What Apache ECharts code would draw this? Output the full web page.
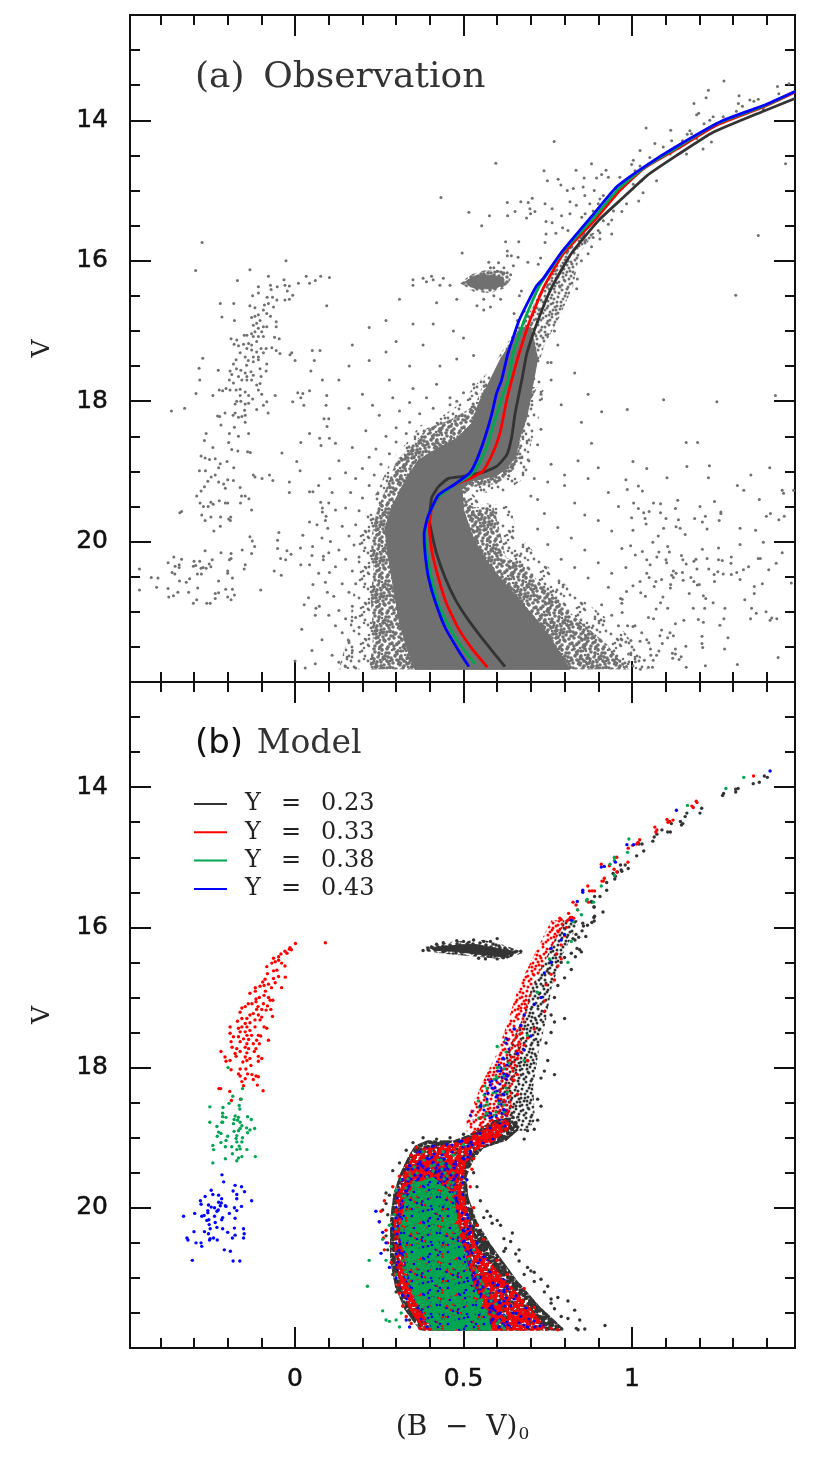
<!DOCTYPE html>
<html><head><meta charset="utf-8">
<style>html,body{margin:0;padding:0;background:#fff}#c{width:830px;height:1458px}</style>
<script src="https://cdn.jsdelivr.net/npm/echarts@6/dist/echarts.min.js"></script>
</head><body><div id="c"></div>
<script>
const xMajorTicks=[0,0.5,1];
const xMinorTicks=[-0.4,-0.3,-0.2,-0.1,0.1,0.2,0.3,0.4,0.6,0.7,0.8,0.9,1.1,1.2,1.3,1.4];
const yMajorTicks=[14,16,18,20];
const yMinorTicks=[13,13.5,14.5,15,15.5,16.5,17,17.5,18.5,19,19.5,20.5,21,21.5];
const legendNames=['Y = 0.23','Y = 0.33','Y = 0.38','Y = 0.43'];

// Isochrones, panel (a)
const lineY23=[[.623,21.78],[.589,21.58],[.549,21.34],[.509,21.08],[.475,20.82],[.445,20.51],[.42,20.17],[.406,19.89],[.399,19.7],[.401,19.53],[.406,19.37],[.425,19.22],[.455,19.1],[.499,19.07],[.559,19.01],[.598,18.93],[.628,18.77],[.643,18.51],[.653,18.18],[.673,17.7],[.688,17.32],[.721,16.85],[.763,16.37],[.821,15.89],[.902,15.42],[.974,15.1],[1.044,14.79],[1.133,14.5],[1.241,14.17],[1.39,13.87],[1.484,13.69]];
const lineY33=[[.571,21.79],[.529,21.55],[.485,21.24],[.45,20.89],[.425,20.51],[.406,20.13],[.398,19.79],[.406,19.53],[.43,19.34],[.47,19.2],[.519,19.1],[.559,18.99],[.584,18.77],[.608,18.46],[.628,17.99],[.643,17.7],[.665,17.32],[.697,16.85],[.739,16.37],[.798,15.89],[.89,15.42],[.964,15],[1.034,14.69],[1.133,14.41],[1.251,14.07],[1.39,13.81],[1.484,13.6]];
const lineY38=[[.534,21.74],[.499,21.53],[.46,21.24],[.425,20.89],[.406,20.55],[.391,20.17],[.386,19.89],[.396,19.63],[.425,19.37],[.475,19.19],[.519,19.06],[.544,18.91],[.569,18.65],[.593,18.27],[.618,17.89],[.633,17.7],[.647,17.32],[.68,16.85],[.724,16.37],[.795,15.87],[.885,15.4],[.959,14.98],[1.034,14.68],[1.133,14.39],[1.251,14.05],[1.39,13.8],[1.484,13.59]];
const lineY43=[[.516,21.78],[.485,21.55],[.445,21.22],[.415,20.84],[.396,20.51],[.386,20.17],[.383,19.89],[.394,19.65],[.425,19.34],[.475,19.18],[.519,19.02],[.539,18.84],[.564,18.51],[.584,18.18],[.598,17.89],[.613,17.7],[.632,17.32],[.665,16.85],[.715,16.37],[.737,16.25],[.789,15.89],[.88,15.37],[.954,14.95],[1.034,14.67],[1.133,14.37],[1.271,14],[1.39,13.79],[1.484,13.59]];

// Saturated stellar density regions
const obsDenseMain=[[.356,21.82],[.331,21.51],[.307,21.08],[.292,20.65],[.277,20.22],[.267,19.84],[.282,19.56],[.312,19.27],[.336,19.06],[.366,18.84],[.42,18.68],[.48,18.53],[.524,18.32],[.549,17.99],[.61,17.4],[.67,16.95],[.7,16.95],[.72,17.4],[.697,17.99],[.688,18.22],[.668,18.51],[.653,18.8],[.628,18.96],[.598,19.06],[.529,19.13],[.495,19.25],[.501,19.56],[.524,19.89],[.559,20.22],[.608,20.51],[.668,20.84],[.727,21.17],[.777,21.51],[.816,21.82]];
const obsSpeckleMain=[[.222,21.82],[.232,21.32],[.225,20.84],[.232,20.36],[.225,19.98],[.24,19.6],[.272,19.22],[.301,18.84],[.345,18.65],[.39,18.39],[.46,18.27],[.52,18.1],[.54,17.99],[.554,17.8],[.72,17.8],[.699,17.99],[.687,18.27],[.668,18.6],[.663,18.89],[.633,19.06],[.598,19.18],[.529,19.22],[.499,19.34],[.529,19.51],[.589,19.51],[.61,19.89],[.625,20.22],[.68,20.36],[.74,20.65],[.8,20.94],[.856,21.18],[.925,21.46],[.984,21.82]];
const obsFringeMain=[[.13,21.82],[.16,21.3],[.17,20.84],[.185,20.36],[.185,20],[.21,19.6],[.25,19.22],[.285,18.84],[.33,18.6],[.37,18.35],[.44,18.2],[.5,18],[.53,17.8],[.57,17.6],[.74,17.6],[.735,18],[.72,18.3],[.7,18.6],[.7,18.9],[.68,19.1],[.62,19.3],[.52,19.3],[.56,19.45],[.64,19.5],[.66,19.9],[.7,20.1],[.76,20.4],[.83,20.75],[.9,21],[.98,21.3],[1.05,21.82]];
const obsSpeckleStem=[[.6,17.4],[.66,16.95],[.7,16.7],[.735,16.37],[.78,15.95],[.84,15.6],[.89,15.6],[.845,15.89],[.825,16.37],[.78,16.85],[.74,17.2],[.725,17.45]];
const obsDenseClump=[[.505,16.3],[.53,16.22],[.56,16.2],[.6,16.22],[.62,16.26],[.62,16.34],[.59,16.4],[.55,16.4],[.52,16.37]];
const obsSpeckleClump=[[.49,16.32],[.52,16.2],[.56,16.14],[.62,16.14],[.64,16.26],[.63,16.38],[.58,16.46],[.53,16.44]];
const modelClump=[[.40,16.29],[.47,16.26],[.53,16.24],[.6,16.3],[.66,16.35],[.62,16.42],[.54,16.38],[.47,16.34],[.42,16.33]];
const modelClumpOuter=[[.385,16.28],[.47,16.2],[.56,16.18],[.62,16.25],[.68,16.36],[.62,16.46],[.54,16.42],[.45,16.38],[.39,16.34]];
const modelBlack=[[.371,21.75],[.326,21.46],[.297,21.13],[.282,20.75],[.282,20.18],[.292,19.8],[.312,19.51],[.336,19.27],[.356,19.11],[.391,19.04],[.47,19.04],[.514,18.96],[.589,18.75],[.658,18.7],[.663,18.89],[.628,19.04],[.559,19.15],[.529,19.32],[.509,19.56],[.514,19.84],[.539,20.18],[.579,20.51],[.658,21.03],[.727,21.41],[.796,21.72],[.796,21.75]];
const modelRed=[[.381,21.75],[.341,21.46],[.312,21.13],[.297,20.75],[.292,20.18],[.302,19.8],[.321,19.51],[.346,19.29],[.371,19.15],[.43,19.11],[.48,19.06],[.529,18.96],[.599,18.8],[.638,18.75],[.633,18.89],[.588,19.06],[.529,19.2],[.504,19.42],[.499,19.75],[.514,20.08],[.539,20.56],[.618,20.99],[.688,21.37],[.747,21.72],[.747,21.75]];
const modelBlue=[[.401,21.75],[.356,21.37],[.321,20.94],[.307,20.46],[.312,19.93],[.331,19.56],[.361,19.32],[.43,19.27],[.48,19.32],[.48,19.75],[.499,20.32],[.529,20.84],[.608,21.41],[.648,21.75]];
const modelGreen=[[.41,21.75],[.355,21.32],[.33,20.84],[.31,20.37],[.325,19.93],[.355,19.65],[.41,19.56],[.47,19.8],[.49,20.41],[.525,21.03],[.57,21.51],[.585,21.75]];
const modelStemBlack=[[.6,18.9],[.593,18.75],[.604,18.27],[.628,17.8],[.673,17.32],[.702,16.85],[.752,16.37],[.796,15.9],[.846,15.9],[.796,16.37],[.762,16.85],[.745,17.32],[.722,17.8],[.707,18.27],[.712,18.75],[.69,18.9]];
const modelStemRed=[[.51,18.95],[.509,18.75],[.559,18.18],[.599,17.8],[.633,17.32],[.663,16.85],[.712,16.37],[.761,15.9],[.806,15.9],[.752,16.37],[.707,16.85],[.682,17.32],[.668,17.8],[.648,18.18],[.638,18.75],[.6,18.9]];
const modelStemMixed=[[.509,18.75],[.559,18.27],[.609,17.8],[.629,17.47],[.638,17.47],[.638,17.9],[.628,18.37],[.628,18.75]];

// Panel (a) individual stars
const obsHorizontalBranch=[[-.276,15.74],[-.295,16.14],[-.027,16],[-.134,16.13],[-.171,16.28],[-.079,16.22],[-.033,16.27],[.033,16.22],[.06,16.28],[.076,16.22],[.102,16.24],[.01,16.32],[.043,16.32],[-.109,16.37],[-.073,16.35],[-.053,16.37],[-.03,16.35],[-.017,16.36],[-.023,16.43],[-.071,16.41],[-.109,16.46],[-.126,16.5],[-.083,16.52],[-.067,16.52],[-.054,16.56],[-.007,16.49],[-.03,16.56],[-.017,16.55],[-.064,16.66],[-.134,16.64],[-.119,16.67],[-.079,16.61],[-.091,16.63],[-.222,16.61],[-.182,16.61],[.094,16.64],[-.094,16.7],[-.084,16.75],[-.109,16.77],[-.119,16.79],[-.129,16.81],[-.073,16.79],[-.217,16.8],[-.18,16.85],[-.056,16.87],[-.056,16.94],[-.104,16.85],[-.114,16.89],[-.124,16.92],[-.094,16.94],[-.084,16.94],[-.109,16.96],[-.099,17.01],[-.119,17.01],[-.129,17.04],[-.143,17.06],[-.151,17.06],[-.19,17.11],[-.173,17.13],[-.124,17.08],[-.109,17.08],[-.094,17.08],[-.061,17.09],[-.047,17.11],[-.181,17.19],[-.168,17.21],[-.153,17.19],[-.138,17.18],[-.129,17.2],[-.114,17.15],[-.143,17.25],[-.129,17.27],[-.114,17.3],[-.101,17.25],[-.086,17.25],[-.069,17.24],[-.056,17.28],[-.045,17.32],[-.163,17.31],[-.148,17.37],[-.124,17.37],[-.109,17.37],[-.094,17.31],[-.01,17.31],[-.015,17.34],[.051,17.28],[.074,17.28],[-.274,17.39],[-.175,17.41],[-.139,17.42],[-.124,17.44],[-.144,17.49],[-.109,17.41],[-.183,17.47],[0,17.42],[.057,17.42],[-.285,17.53],[-.174,17.54],[-.104,17.54],[-.084,17.47],[-.086,17.57],[-.228,17.56],[-.193,17.57],[-.161,17.56],[-.148,17.6],[-.131,17.58],[.047,17.57],[-.188,17.62],[-.168,17.65],[-.143,17.65],[-.124,17.63],[-.101,17.65],[-.283,17.7],[-.195,17.7],[-.183,17.74],[-.158,17.7],[-.143,17.7],[-.129,17.7],[-.114,17.77],[-.104,17.75],[.081,17.7],[-.294,17.89],[-.225,17.84],[-.215,17.85],[-.205,17.82],[-.193,17.84],[-.175,17.84],[-.163,17.83],[-.148,17.87],[-.109,17.84],[-.244,17.92],[-.099,17.9],[-.059,17.92],[.008,17.88],[.023,17.89],[.043,17.85],[.094,17.92],[.017,17.95],[-.163,17.92],[-.138,17.92],[-.126,17.97],[-.173,18],[-.161,18],[-.148,18.04],[-.138,18.03],[-.084,18.01],[-.094,18.06],[-.007,18.01],[.026,18.06],[.092,18.06],[-.178,18.04],[-.367,18.14],[-.328,18.1],[-.114,18.12],[-.15,18.13],[-.08,18.17],[-.178,18.17],[-.208,18.17],[-.23,18.21],[-.224,18.22],[-.184,18.2],[-.168,18.23],[-.158,18.22],[-.148,18.2],[.086,18.25],[-.148,18.3],[-.22,18.34],[-.18,18.37],[.095,18.36],[.102,18.53],[-.264,18.46],[-.195,18.46],[-.138,18.46],[.043,18.46],[-.269,18.56],[-.168,18.5],[-.197,18.59],[.017,18.59],[.073,18.53],[.077,18.63],[-.244,18.66],[-.188,18.69],[-.17,18.71],[-.141,18.72],[-.133,18.73],[-.279,18.78],[-.267,18.81],[-.254,18.83],[-.237,18.82],[-.222,18.89],[-.202,18.86],[-.227,18.95],[-.182,18.95],[-.039,18.74],[.005,18.86],[.015,18.99],[-.284,18.99],[-.266,18.99],[-.237,19.05],[-.249,19.08],[-.259,19.14],[-.227,19.15],[-.212,19.18],[-.2,19.12],[-.183,19.13],[-.124,19.05],[-.119,19.08],[-.098,19.1],[-.076,19.05],[-.066,19.13],[-.017,19.15],[.103,19.1],[-.207,19.24],[-.269,19.22],[-.279,19.28],[-.292,19.35],[-.163,19.23],[-.159,19.35],[-.148,19.35],[-.137,19.39],[-.017,19.3],[.043,19.29],[.053,19.29],[-.342,19.59],[-.337,19.57],[-.282,19.45],[-.25,19.44],[-.225,19.42],[-.207,19.45],[-.2,19.45],[-.272,19.5],[-.258,19.5],[-.243,19.47],[-.162,19.45],[-.129,19.55],[.076,19.44],[.081,19.52],[.081,19.58],[.092,19.64],[-.277,19.62],[-.25,19.65],[-.221,19.65],[-.191,19.65],[-.197,19.68],[-.267,19.7],[-.192,19.7],[-.222,19.78],[-.241,19.85],[.043,19.72],[.065,19.76],[.097,19.81],[-.048,19.87],[.023,19.91],[-.134,19.93],[-.052,19.98],[-.127,19.99],[-.12,20.07],[.016,20.09],[.052,20.07],[-.052,20.1],[-.157,20.12],[-.267,20.13],[-.22,20.16],[-.19,20.17],[-.129,20.17],[-.024,20.13],[-.012,20.18],[.1,20.16],[-.36,20.22],[-.337,20.25],[-.3,20.28],[-.283,20.28],[-.246,20.26],[-.195,20.26],[-.19,20.24],[-.043,20.24],[-.028,20.26],[.084,20.21],[.084,20.26],[-.377,20.3],[-.344,20.33],[-.344,20.37],[-.356,20.35],[-.302,20.35],[-.295,20.34],[-.255,20.32],[-.148,20.33],[.017,20.33],[.043,20.33],[-.279,20.38],[-.273,20.37],[-.264,20.38],[-.25,20.36],[-.151,20.39],[-.462,20.39],[-.2,20.42],[-.2,20.45],[-.365,20.44],[-.357,20.46],[-.29,20.46],[-.278,20.46],[-.062,20.42],[-.041,20.48],[.102,20.44],[-.427,20.51],[-.407,20.52],[-.343,20.56],[-.313,20.53],[-.323,20.58],[-.227,20.56],[-.186,20.52],[.053,20.61],[-.411,20.65],[-.377,20.67],[-.289,20.66],[-.206,20.68],[-.186,20.68],[-.462,20.69],[-.102,20.69],[.096,20.72],[-.348,20.72],[-.316,20.72],[-.361,20.77],[-.375,20.79],[-.237,20.74],[-.227,20.73],[-.2,20.79],[-.18,20.76],[-.237,20.81],[-.19,20.83],[-.292,20.83],[-.302,20.88],[-.262,20.88],[-.252,20.88],[.027,20.9],[.072,20.92],[.062,20.95]];
const obsFieldRight=[[.986,18.12],[1.094,17.98],[1.252,18.01],[1.426,17.92],[1.161,18.59],[1.195,18.59],[1.003,18.86],[1.044,18.96],[1.163,18.93],[1.23,18.92],[1.104,19.09],[1.227,19.09],[1.353,19.05],[1.409,18.95],[.982,19.12],[.986,19.26],[1.019,19.21],[1.031,19.28],[1.313,19.2],[1.332,19.27],[1.446,19.27],[1.45,19.31],[1.48,19.27],[1.136,19.41],[1.245,19.43],[1.378,19.4],[1.005,19.45],[1.064,19.45],[1.085,19.46],[1.019,19.53],[1.051,19.57],[1.035,19.59],[1.129,19.53],[1.085,19.59],[1.202,19.5],[1.264,19.58],[1.264,19.6],[.999,19.66],[1.039,19.67],[1.042,19.75],[1.101,19.67],[1.138,19.69],[1.186,19.67],[1.218,19.64],[1.209,19.72],[1.259,19.7],[1.399,19.64],[1.411,19.6],[1.436,19.69],[1.452,19.64],[1.003,19.84],[1.094,19.81],[1.131,19.79],[1.143,19.81],[1.223,19.82],[1.321,19.81],[1.367,19.84],[1.078,19.92],[1.158,19.9],[1.062,20.01],[.996,20.06],[1.106,20.07],[1.321,20.04],[1.39,20.01],[1.209,20.11],[1.257,20.09],[1.031,20.14],[1.08,20.15],[1.111,20.15],[1.446,20.16],[1.01,20.19],[1.074,20.22],[1.147,20.2],[1.044,20.26],[1.101,20.26],[1.151,20.26],[1.19,20.25],[1.184,20.28],[1.223,20.24],[1.257,20.26],[1.268,20.27],[1.295,20.22],[1.294,20.31],[1.375,20.24],[1.381,20.24],[1.428,20.31],[1.054,20.33],[1.161,20.32],[1.103,20.3],[.982,20.37],[1.193,20.39],[1.228,20.39],[1.346,20.36],[1.406,20.4],[1.331,20.4],[1.123,20.42],[1.131,20.45],[1.15,20.44],[1.044,20.45],[1.118,20.48],[1.255,20.43],[1.244,20.47],[1.271,20.46],[1.295,20.47],[1.311,20.44],[1.051,20.51],[1.175,20.51],[1.088,20.54],[1.123,20.51],[1.152,20.55],[1.321,20.54],[1.071,20.57],[1.184,20.57],[1.024,20.57],[1.245,20.57],[1.387,20.6],[1.473,20.59],[1.115,20.61],[1.194,20.62],[1.2,20.61],[1.066,20.64],[1.003,20.63],[1.114,20.66],[1.363,20.64],[1.17,20.74],[.984,20.71],[1.026,20.73],[1.363,20.74],[1.04,20.78],[1.212,20.77],[1.219,20.81],[1.092,20.79],[.966,20.81],[.971,20.82],[1.335,20.83],[1.085,20.87],[1.241,20.87],[1.072,20.96],[1.106,20.95],[1.182,20.95],[1.216,20.95],[1.276,20.95],[1.355,20.95],[1.369,21.02],[1.398,21],[.971,21.01],[1.049,21.08],[1.064,21.1],[1.273,21.1],[1.352,21.1],[1.41,21.12],[1.415,21.09],[1.43,21.1],[1.129,21.17],[1.154,21.12],[1.212,21.15],[1.197,21.11],[1.261,21.19],[1.009,21.2],[1.029,21.3],[1.113,21.3],[1.088,21.26],[1.003,21.21],[.987,21.2],[1.083,21.34],[1.123,21.34],[1.106,21.37],[1.208,21.35],[1.285,21.37],[1.09,21.45],[1.16,21.49],[1.208,21.45],[1.21,21.51],[1.275,21.53],[1.024,21.42],[1.05,21.44],[.997,21.41],[.982,21.43],[1.044,21.4],[1.055,21.53],[1.08,21.56],[1.12,21.59],[1.129,21.53],[1.129,21.6],[1.073,21.62],[1.056,21.62],[1.146,21.64],[1.121,21.66],[1.14,21.68],[1.434,21.65],[1.037,21.69],[1.063,21.69],[1.313,21.75],[1.218,21.77],[1.161,21.79],[1.049,21.79],[1.061,21.79],[1.025,21.82],[.984,21.78],[1.01,21.71]];
const obsSubgiant=[[1.273,13.44],[1.227,13.57],[1.22,13.68],[1.184,13.76],[1.192,13.92],[1.198,13.9],[1.318,13.65],[1.316,13.76],[1.35,13.71],[1.362,13.73],[1.375,13.7],[1.432,13.52],[1.466,13.48],[1.436,13.62],[1.39,13.84],[1.31,13.87],[1.328,13.8],[1.271,13.95],[1.241,13.95],[1.231,14],[1.214,14.05],[1.042,14.11],[1.115,14.14],[1.172,14.15],[1.177,14.19],[1.164,14.2],[1.15,14.29],[1.118,14.29],[1.068,14.33],[1.024,14.43],[1.004,14.57],[.999,14.63],[1.009,14.72],[1.024,14.65],[1.053,14.53],[1.093,14.38],[1.113,14.48],[1.142,14.38],[1.162,14.48],[1.211,14.41],[1.236,14.31],[1.192,14.26],[1.375,15.64],[1.308,16.49],[1.456,14.62],[.769,14.3],[.596,14.61],[.88,14.62],[.834,14.71],[.923,14.71],[.91,14.77],[.895,14.82],[.858,14.82],[.93,14.81],[.739,14.72],[.749,14.86],[.781,14.84],[.789,14.92],[.808,15],[.826,14.97],[.855,14.95],[.888,15],[.86,15.07],[.915,15.07],[.905,15.12],[.964,14.81],[.969,14.91],[.954,14.98],[1.004,14.91],[1.033,15.03],[1.073,14.86],[.433,15.1],[.516,15.31],[.577,15.36],[.554,15.5],[.63,15.17],[.67,15.16],[.692,15.17],[.704,15.11],[.742,15.19],[.763,15.26],[.697,15.26],[.712,15.3],[.699,15.33],[.687,15.39],[.631,15.36],[.653,15.3],[.745,15.44],[.763,15.46],[.791,15.36],[.816,15.33],[.835,15.21],[.816,15.16],[.861,15.33],[.851,15.38],[.885,15.29],[.9,15.19],[.875,15.19],[.794,15.53],[.81,15.57],[.774,15.61],[.745,15.62],[.742,15.74],[.625,15.73],[.664,15.73],[.865,15.52],[.915,15.43],[.94,15.62],[.9,15.57],[.885,15.67],[.905,15.69],[.945,15.29],[.984,15.19],[1.029,14.86],[.496,15.89],[.63,15.86],[.63,15.93],[.604,16.03],[.642,15.93],[.662,15.95],[.648,16.07],[.691,16.02],[.729,15.96],[.722,16.05],[.672,16.43],[.666,16.5],[.838,16.26],[.836,16.4],[.59,16.5],[.785,16.36],[.61,16.55],[.85,16],[.87,15.9],[.86,15.72],[.88,15.8],[.905,15.6],[.93,15.48],[.94,15.42],[.97,15.3],[1.02,15.15],[.66,16.85],[.68,16.72],[.65,16.75],[.58,16.1],[.56,16.55],[.54,16.64],[.56,16.7],[.58,16.66],[.48,16.55],[.46,16.35],[.44,16.25],[.41,16.27],[.39,16.3],[.38,16.25],[.405,16.22],[.43,16.35],[.35,16.27],[.35,16.35],[.62,16.1],[.6,16.15],[.63,16.17],[.64,16.2],[.59,16.1],[.575,16.02]];
const obsHaloLeft=[[.18,21.8],[.15,21.78],[.19,21.7],[.17,21.55],[.16,21.44],[.19,21.22],[.14,21.3],[.18,21.08],[.15,21.1],[.17,20.92],[.13,20.98],[.16,20.72],[.18,20.6],[.14,20.6],[.17,20.42],[.19,20.22],[.15,20.25],[.175,20.05],[.13,20.12],[.16,19.92],[.18,19.76],[.14,19.78],[.19,19.56],[.15,19.52],[.2,19.38],[.165,19.3],[.22,19.2],[.18,19.1],[.235,19.05],[.2,18.96],[.255,18.9],[.22,18.8],[.28,18.75],[.24,18.68],[.3,18.58],[.27,18.5],[.33,18.46],[.3,18.38],[.34,18.3],[.37,18.18],[.41,18.1],[.46,18.05],[.48,18],[.46,17.95],[.5,17.88],[.53,17.76],[.31,18.14],[.34,18.02],[.29,17.95],[.25,18.2],[.21,18.42],[.23,18.06],[.28,17.7],[.35,17.82],[.39,17.95],[.42,17.76],[.2,17.9],[.16,18.1],[.17,18.66],[.13,18.85],[.15,19.02],[.11,19.3],[.12,19.55],[.09,19.7],[.105,20],[.12,20.36],[.09,20.58],[.115,20.78],[.1,21.05],[.12,21.2],[.08,21.4],[.11,21.62],[.13,21.72],[.06,21.74],[.03,21.8],[.0,21.7],[.05,21.55],[.02,21.25],[.06,21.05],[.04,20.8],[.07,20.45],[.05,20.2],[.08,19.95],[.1,19.45],[.07,19.2],[.12,18.6],[.1,18.25],[.13,17.7],[.16,17.5],[.22,17.42],[.27,17.3],[.3,17.15],[.34,17.5],[.38,17.2],[.43,17.5],[.48,17.4],[.5,17.1],[.53,17.35],[.47,17],[.41,16.9],[.35,16.9],[.31,16.55],[.27,16.85],[.22,16.95],[.17,17.2],[.42,16.6]];
const obsHaloRight=[[.72,19.4],[.74,19.6],[.72,19.82],[.78,19.8],[.75,20.04],[.82,19.95],[.79,20.25],[.86,20.12],[.83,20.37],[.9,20.3],[.87,20.52],[.94,20.45],[.93,20.65],[.91,20.9],[.97,20.88],[.94,21.05],[.96,21.2],[.97,21.4],[.99,21.6],[.72,18.62],[.73,18.4],[.73,17.9],[.76,17.7],[.79,18.05],[.85,18.3],[.88,18.6],[.84,18.85],[.8,19.05],[.87,19.1],[.9,18.95],[.93,19.3],[.96,19.5],[.9,19.7],[.94,19.85],[.97,20.1],[.8,19.2],[.75,19.15],[.83,19.45],[.86,19.62],[.76,18.9],[.71,19.1],[.7,19.35],[.76,17.45],[.78,17.2],[.83,17.6],[.87,17.9],[.91,18.15],[.75,17.45],[.75,17.05],[.77,17]];

// Panel (b) individual stars
const modelHBRed=[[.001,16.23],[.09,16.22],[-.015,16.29],[-.011,16.32],[-.017,16.31],[-.03,16.34],[-.024,16.37],[-.042,16.38],[-.049,16.42],[-.064,16.44],[-.049,16.47],[-.059,16.49],[-.069,16.51],[-.04,16.51],[-.084,16.56],[-.03,16.55],[-.054,16.61],[-.064,16.62],[-.082,16.66],[-.049,16.7],[-.029,16.71],[-.064,16.73],[-.089,16.74],[-.096,16.78],[-.059,16.79],[-.079,16.81],[-.092,16.83],[-.04,16.86],[-.07,16.86],[-.118,16.86],[-.104,16.84],[-.088,16.91],[-.118,16.91],[-.134,16.94],[-.092,16.97],[-.116,17.02],[-.079,17],[-.074,17.04],[-.066,17.04],[-.106,17],[-.116,17.06],[-.094,17.09],[-.11,17.13],[-.082,17.12],[-.128,17.09],[-.139,17.09],[-.148,17.13],[-.158,17.15],[-.163,17.21],[-.099,17.17],[-.086,17.18],[-.072,17.17],[-.114,17.17],[-.124,17.23],[-.109,17.25],[-.099,17.28],[-.134,17.25],[-.067,17.27],[-.143,17.3],[-.171,17.34],[-.158,17.3],[-.119,17.32],[-.134,17.36],[-.148,17.37],[-.104,17.32],[-.143,17.42],[-.158,17.42],[-.168,17.44],[-.193,17.42],[-.119,17.42],[-.092,17.42],[-.084,17.44],[-.134,17.47],[-.148,17.49],[-.163,17.49],[-.193,17.51],[-.183,17.56],[-.168,17.56],[-.143,17.54],[-.129,17.54],[-.109,17.54],[-.102,17.55],[-.153,17.59],[-.138,17.6],[-.114,17.61],[-.079,17.61],[-.19,17.63],[-.163,17.63],[-.143,17.66],[-.124,17.66],[-.106,17.66],[-.187,17.71],[-.173,17.73],[-.148,17.71],[-.138,17.73],[-.116,17.73],[-.22,17.77],[-.178,17.8],[-.163,17.77],[-.143,17.79],[-.121,17.77],[-.109,17.84],[-.099,17.87],[-.208,17.85],[-.175,17.84],[-.148,17.85],[-.134,17.87],[-.109,17.91],[-.205,17.91],[-.193,17.9],[-.155,17.92],[-.143,17.9],[-.163,18.02],[-.146,18.02],[-.131,17.97],[-.19,18.03],[-.168,18.09],[-.141,18.09],[-.128,18.1],[-.116,18.12],[-.163,18.12],[-.148,18.16],[-.109,18.13],[-.124,18.17],[-.112,18.25],[-.158,18.2],[-.153,18.26],[-.095,18.33],[-.226,18.3],[-.221,18.3],[-.194,18.34],[-.162,18.45],[-.189,18.47]];
const modelHBGreen=[[-.199,18],[-.156,18.3],[-.185,18.41],[-.16,18.45],[-.196,18.51],[-.166,18.54],[-.253,18.56],[-.214,18.57],[-.164,18.59],[-.215,18.65],[-.215,18.7],[-.205,18.71],[-.178,18.69],[-.141,18.7],[-.168,18.71],[-.181,18.74],[-.171,18.75],[-.13,18.74],[-.215,18.78],[-.253,18.78],[-.183,18.8],[-.163,18.78],[-.217,18.78],[-.232,18.84],[-.158,18.83],[-.144,18.86],[-.12,18.87],[-.163,18.87],[-.168,18.9],[-.181,18.91],[-.134,18.89],[-.227,18.92],[-.22,18.94],[-.141,18.93],[-.231,18.98],[-.173,18.97],[-.2,18.98],[-.156,19],[-.175,19.01],[-.205,19.04],[-.22,19.07],[-.173,19.06],[-.158,19.06],[-.244,19.11],[-.166,19.12],[-.242,19.17],[-.207,19.13],[-.188,19.13],[-.173,19.17],[-.163,19.16],[-.143,19.17],[-.244,19.36],[-.207,19.3],[-.186,19.23],[-.158,19.27],[-.168,19.29],[-.173,19.33],[-.118,19.27]];
const modelHBBlue=[[-.217,19.53],[-.212,19.63],[-.178,19.68],[-.159,19.7],[-.249,19.75],[-.15,19.77],[-.184,19.76],[-.244,19.81],[-.227,19.82],[-.267,19.84],[-.173,19.81],[-.173,19.87],[-.281,19.9],[-.218,19.87],[-.129,19.9],[-.227,19.92],[-.219,19.93],[-.279,19.95],[-.257,19.96],[-.222,19.97],[-.207,19.97],[-.205,19.98],[-.249,19.99],[-.239,20],[-.159,19.98],[-.18,20],[-.228,20.03],[-.232,20.05],[-.173,20.04],[-.259,20.04],[-.259,20.07],[-.298,20.08],[-.331,20.12],[-.277,20.12],[-.27,20.11],[-.239,20.12],[-.215,20.14],[-.218,20.17],[-.195,20.08],[-.178,20.15],[-.256,20.17],[-.262,20.18],[-.237,20.21],[-.255,20.24],[-.232,20.28],[-.252,20.3],[-.215,20.3],[-.18,20.29],[-.153,20.3],[-.3,20.34],[-.269,20.34],[-.2,20.35],[-.257,20.37],[-.151,20.37],[-.178,20.39],[-.321,20.43],[-.318,20.46],[-.242,20.43],[-.252,20.44],[-.254,20.46],[-.231,20.46],[-.186,20.43],[-.153,20.43],[-.294,20.5],[-.279,20.5],[-.277,20.55],[-.21,20.6],[-.192,20.62],[-.305,20.75],[-.184,20.76],[-.164,20.76]];
const modelBlackStars=[[1.393,13.84],[1.402,13.86],[1.378,13.93],[1.36,13.95],[1.315,14.02],[1.308,14.03],[1.308,14.07],[1.272,14.09],[1.269,14.12],[1.207,14.3],[1.202,14.37],[1.163,14.37],[1.158,14.42],[1.144,14.49],[1.151,14.52],[1.147,14.54],[1.117,14.52],[1.089,14.61],[1.106,14.64],[1.114,14.64],[1.074,14.67],[1.066,14.71],[1.062,14.77],[1.03,14.81],[1.021,14.81],[1.035,14.91],[1.014,14.98],[.98,15.11],[.966,15.11],[.989,15.16],[.957,15.21],[.968,15.18],[.97,15.2],[.944,15.23],[.951,15.27],[.949,15.31],[.925,15.36],[.925,15.47],[.905,15.56],[.889,15.56],[.88,15.63],[.88,15.64],[.887,15.71],[.888,15.71],[.914,15.78],[.889,15.84],[.887,15.86],[.881,15.93],[.888,15.91],[.854,15.94],[.856,15.98],[.868,15.97],[.852,16.05],[.834,16.1],[.863,16.13],[.842,16.14],[.831,16.18],[.825,16.16],[.837,16.3],[.845,16.32],[.85,16.35],[.82,16.37],[.832,16.42],[.8,16.43],[.79,16.5],[.82,16.6],[.8,16.72],[.78,16.83],[.77,17],[.76,17.25],[.8,17.3],[.77,17.35],[.76,17.5],[.745,17.65],[.75,17.9],[.74,18.05],[.77,18.1],[.73,18.15],[.72,18.45],[.73,18.55],[.72,18.75],[.69,18.9],[.71,18.88],[.68,19.02],[.26,20.03],[.27,19.79],[.28,19.82],[.27,19.94],[.29,19.47],[.31,19.36],[.33,19.18],[.35,19.07],[.355,21.38],[.56,20.14],[.58,20.12],[.585,20.22],[.61,20.25],[.57,20.05],[.6,20.18],[.62,20.44],[.645,20.36],[.625,20.58],[.64,20.48],[.655,20.66],[.665,20.76],[.69,20.85],[.665,20.6],[.71,21.05],[.7,20.9],[.71,20.92],[.73,21.02],[.75,21.12],[.78,21.28],[.81,21.33],[.83,21.46],[.845,21.6],[.81,21.58],[.79,21.55],[.76,21.36],[.77,21.44],[.835,21.72],[.84,21.74],[.86,21.73],[.92,21.68],[.74,21.2],[.76,21.3],[.68,20.95],[.62,20.62],[.55,19.9],[.54,19.7],[.53,19.5],[.3,20.05],[.275,20.1],[.27,20.4],[.275,20.6],[.29,20.95],[.3,21.2],[.32,21.4],[.34,21.6],[.38,19.0],[.42,19.02],[.46,19.0],[.5,18.95],[.44,16.22],[.5,16.2],[.53,16.18],[.56,16.2],[.6,16.16],[.48,16.19],[.42,16.24],[.395,16.32],[.38,16.33],[.405,16.28],[.45,16.29],[.58,16.2],[.63,16.42],[.6,16.45],[.565,16.45],[.545,16.44],[.5,16.35],[.67,16.34]];
const modelRedStars=[[1.361,13.84],[1.191,14.2],[1.193,14.22],[1.178,14.27],[1.182,14.29],[1.122,14.47],[1.104,14.46],[1.107,14.5],[1.112,14.49],[1.068,14.57],[1.074,14.61],[1.071,14.64],[1.023,14.75],[1.014,14.81],[1.018,14.79],[1.002,14.83],[.989,14.87],[.955,15.0],[.933,15.12],[.909,15.1],[.988,15.07],[.955,15.21],[.947,15.17],[.918,15.3],[.911,15.34],[.915,15.34],[.869,15.41],[.874,15.48],[.882,15.48],[.889,15.48],[.825,15.64],[.834,15.68],[.839,15.75],[.871,15.64],[.812,15.8],[.822,15.86],[.827,15.87],[.812,15.89],[.807,15.91],[.817,15.86],[.79,15.89],[.786,15.87],[.806,16.0],[.78,16.05],[.8,16.12],[.79,16.25],[.775,16.38],[.79,16.45],[.78,16.55],[.76,16.67],[.745,16.82],[.77,16.75],[.74,17.05],[.74,17.2],[.71,17.45],[.69,17.58],[.68,17.68],[.67,17.78],[.66,17.87],[.69,17.9],[.66,18.1],[.65,18.18],[.66,18.38],[.64,18.55],[.63,18.66],[.55,18.72],[.25,20.2],[.255,20.05],[.265,19.9],[.27,20.32],[.262,20.43],[.275,20.5],[.265,20.6],[.285,20.78],[.295,20.95],[.305,21.1],[.31,21.22],[.32,21.4],[.33,21.55],[.345,21.65],[.37,21.72],[.29,19.7],[.31,19.55],[.33,19.4],[.345,19.25],[.36,19.14],[.78,21.74],[.76,21.72],[.53,19.3],[.525,19.45],[.52,19.7],[.53,20],[.54,20.25],[.56,20.45],[.6,20.75],[.63,20.95],[.68,21.15],[.71,21.42],[.44,20.1],[.4,20.7],[.47,21.3],[.38,20.2],[.42,19.9],[.5,21.6],[.43,21.05],[.4,19.6]];
const modelGreenStars=[[1.332,13.86],[1.279,14.02],[1.165,14.26],[.991,14.74],[.987,14.93],[.948,15.01],[.935,15.1],[.948,15.0],[.948,15.26],[.948,15.05],[.909,15.41],[.867,15.6],[.865,15.62],[.886,15.64],[.85,15.82],[.838,15.75],[.825,15.92],[.82,16.2],[.755,16.45],[.81,16.5],[.72,16.93],[.69,17.54],[.6,17.7],[.68,17.9],[.6,18],[.6,18.15],[.57,18.3],[.63,18.35],[.55,18.55],[.57,18.65],[.22,20.75],[.215,21.12],[.26,21.47],[.27,21.6],[.28,21.62],[.3,21.6],[.31,21.7],[.315,21.5],[.3,20.3],[.28,20.25],[.26,20.45],[.285,20.55],[.27,20.75],[.3,20.95],[.295,20.1],[.3,19.75],[.315,19.6],[.38,19.2],[.44,19.2],[.5,19.1],[.47,19.25],[.53,20.6],[.54,20.9],[.57,21.2],[.59,21.5],[.6,21.65],[.62,21.72]];
const modelBlueStars=[[1.41,13.77],[1.132,14.33],[.985,14.82],[1.005,14.82],[.951,15.07],[.918,15.13],[.909,15.14],[.854,15.47],[.854,15.5],[.838,15.63],[.82,15.9],[.8,16.1],[.79,16.18],[.76,16.3],[.76,16.5],[.74,16.65],[.73,17],[.71,17.1],[.68,17.25],[.67,17.4],[.65,17.45],[.7,17.55],[.68,17.75],[.66,17.8],[.61,18.05],[.63,18.12],[.58,18.25],[.6,18.4],[.55,18.55],[.58,18.65],[.62,18.6],[.24,20.05],[.25,20.2],[.26,20.35],[.27,20.5],[.255,20.65],[.28,20.85],[.3,21],[.32,21.25],[.33,21.6],[.34,21.7],[.29,20.3],[.32,19.6],[.34,19.4],[.37,19.2],[.41,19.12],[.45,19.1],[.49,19.05],[.52,19.2],[.51,19.6],[.51,20.1],[.52,20.35],[.54,20.5],[.56,20.7],[.6,21.1],[.62,21.2],[.64,21.4],[.67,21.55],[.69,21.7]];

const INK='#111', STAR='#707070', C0='#333333', C1='#ff0000', C2='#00a651', C3='#0000ff';
const xRange=[-0.49,1.484], yRange=[12.5,22];
const fontSerif='"DejaVu Serif"', fontSans='"DejaVu Sans"';
// Texture tile standing in for unresolved crowds of stars inside the region fills
const tileSpots=[[2,3],[9,1],[15,4],[22,2],[29,5],[34,1],[5,8],[12,7],[18,9],[25,8],[31,10],[1,12],[8,13],[14,11],[21,14],[27,13],[33,15],[4,17],[11,16],[17,18],[24,17],[30,19],[0,21],[7,20],[13,22],[20,21],[26,23],[35,22],[3,25],[10,24],[16,26],[23,25],[29,27],[6,28],[12,29],[19,30],[25,29],[32,31],[1,32],[8,33],[15,34],[22,33],[28,35],[34,34],[5,3],[19,5],[27,1],[11,10],[23,11],[35,8],[3,14],[17,14],[29,16],[8,18],[21,18],[33,20],[5,22],[16,22],[27,20],[12,26],[24,28],[34,26],[3,30],[17,31],[30,32],[7,35],[20,35],[14,1],[31,24],[9,27],[26,5],[1,6],[13,15],[23,21],[6,11],[18,25],[32,12],[10,32],[28,9],[15,19]];
function texture(color,r,step,shift){
  const c=document.createElement('canvas');c.width=c.height=36;const g=c.getContext('2d');g.fillStyle=color;
  tileSpots.forEach((p,i)=>{if(i%step)return;const x=(p[0]+shift)%36,y=(p[1]+shift*2)%36;
    [[0,0],[36,0],[0,36],[-36,0],[0,-36]].forEach(o=>{g.beginPath();g.arc(x+o[0],y+o[1],r,0,7);g.fill();});});
  return {image:c,repeat:'repeat'};
}
function xAxesFor(g){
  const base=(pos,vals,len,lab)=>({gridIndex:g,type:'value',min:xRange[0],max:xRange[1],position:pos,
    axisLine:{show:true,onZero:false,lineStyle:{color:INK,width:2}},splitLine:{show:false},
    axisTick:{show:true,inside:true,length:len,lineStyle:{color:INK,width:2},customValues:vals},
    axisLabel:lab?{show:true,customValues:vals,color:INK,fontFamily:fontSans,fontSize:25,margin:19,hideOverlap:false,textBorderColor:INK,textBorderWidth:.5}:{show:false}});
  const a=base('bottom',xMajorTicks,21,g===1);
  if(g===1){a.name='(B\u00a0\u00a0\u2212\u00a0\u00a0V){s|0}';a.nameLocation='middle';a.nameGap=64;
    a.nameTextStyle={color:'#222',fontFamily:fontSerif,fontSize:28,rich:{s:{fontFamily:fontSerif,fontSize:17,padding:[14,0,0,1],color:'#222'}}};}
  return [a,base('bottom',xMinorTicks,10,false),base('top',xMajorTicks,21,false),base('top',xMinorTicks,10,false)];
}
function yAxesFor(g){
  const base=(pos,vals,len,lab)=>({gridIndex:g,type:'value',min:yRange[0],max:yRange[1],inverse:true,position:pos,
    axisLine:{show:true,onZero:false,lineStyle:{color:INK,width:2}},splitLine:{show:false},
    axisTick:{show:true,inside:true,length:len,lineStyle:{color:INK,width:2},customValues:vals},
    axisLabel:lab?{show:true,customValues:vals,color:INK,fontFamily:fontSans,fontSize:25,margin:22,padding:[5,0,0,0],textBorderColor:INK,textBorderWidth:.5}:{show:false}});
  const a=base('left',yMajorTicks,21,true);
  a.name='V';a.nameLocation='middle';a.nameGap=75;a.nameTextStyle={color:'#222',fontFamily:fontSerif,fontSize:25};
  return [a,base('left',yMinorTicks,10,false),base('right',yMajorTicks,21,false),base('right',yMinorTicks,10,false)];
}
function region(name,pts,fill,g,z){
  const solid=typeof fill==='string';
  return {name,type:'custom',xAxisIndex:g*4,yAxisIndex:g*4,coordinateSystem:'cartesian2d',z,silent:true,clip:true,
    data:[pts[0]],encode:{x:0,y:1},
    renderItem:(p,api)=>({type:'polygon',shape:{points:pts.map(q=>api.coord(q))},style:solid?{fill,stroke:fill,lineWidth:1}:{fill}})};
}
function stars(name,pts,color,g,z,size){
  return {name,type:'scatter',xAxisIndex:g*4,yAxisIndex:g*4,data:pts,symbol:'circle',symbolSize:size,z,silent:true,clip:true,
    itemStyle:{color,opacity:1},large:false};
}
function iso(name,pts,color,z){
  return {name,type:'line',xAxisIndex:0,yAxisIndex:0,data:pts,showSymbol:false,smooth:0.15,z,silent:true,clip:true,
    lineStyle:{color,width:2.8},itemStyle:{color}};
}
const obsStars=[].concat(obsHorizontalBranch,obsFieldRight,obsSubgiant,obsHaloLeft,obsHaloRight);
const option={
  animation:false,backgroundColor:'#fff',
  grid:[{left:130,top:15,width:665,height:667,containLabel:false},{left:130,top:682,width:665,height:666,containLabel:false}],
  xAxis:[...xAxesFor(0),...xAxesFor(1)],
  yAxis:[...yAxesFor(0),...yAxesFor(1)],
  title:[
    {text:'(a)\u00a0\u2009Observation',left:195,top:60,padding:0,textStyle:{fontFamily:fontSerif,fontWeight:'normal',fontSize:36,color:'#333'}},
    {text:'{a|(b)}\u00a0\u00a0\u2009{b|Model}',left:195,top:727,padding:0,textStyle:{rich:{a:{fontFamily:fontSans,fontWeight:'normal',fontSize:34,color:'#111'},b:{fontFamily:fontSerif,fontWeight:'normal',fontSize:33,color:'#333'}}}}
  ],
  legend:{orient:'vertical',left:194,top:792,padding:0,itemWidth:33,itemHeight:2,itemGap:4.3,icon:'rect',selectedMode:false,
    data:legendNames,formatter:n=>n.replace(/ = /,'\u00a0\u00a0\u2009=\u00a0\u00a0\u2009'),
    textStyle:{fontFamily:fontSerif,fontSize:24,color:'#222',padding:[0,0,0,13]}},
  series:[
    region('obs fringe',obsFringeMain,texture(STAR,1.4,3,0),0,1),
    region('obs fringe 2',obsFringeMain,texture(STAR,1.3,5,21),0,1),
    region('obs speckle',obsSpeckleMain,texture(STAR,1.8,1,0),0,1),
    region('obs speckle 2',obsSpeckleMain,texture(STAR,1.3,2,17),0,1),
    region('obs stem speckle',obsSpeckleStem,texture(STAR,1.5,1,0),0,1),
    region('obs clump speckle',obsSpeckleClump,texture(STAR,1.8,1,0),0,1),
    region('obs dense',obsDenseMain,STAR,0,2),
    region('obs clump',obsDenseClump,STAR,0,2),
    stars('obs stars',obsStars,STAR,0,3,3),
    iso(legendNames[0],lineY23,C0,5),iso(legendNames[1],lineY33,C1,6),iso(legendNames[2],lineY38,C2,7),iso(legendNames[3],lineY43,C3,8),
    region('model clump outer',modelClumpOuter,texture(C0,1.8,1,0),1,2),
    region('model clump',modelClump,C0,1,2),
    region('model stem Y23',modelStemBlack,texture(C0,1.5,1,0),1,2),
    region('model Y23',modelBlack,texture(C0,2.2,1,0),1,2),
    region('model Y23 b',modelBlack,texture(C0,1.8,1,11),1,2),
    stars('model stars Y23',modelBlackStars,C0,1,3,3.4),
    region('model stem Y33',modelStemRed,texture(C1,1.5,1,5),1,4),
    region('model stem Y43',modelStemMixed,texture(C3,1.6,3,11),1,4),
    region('model stem Y38',modelStemMixed,texture(C2,1.6,4,23),1,4),
    region('model Y33',modelRed,texture(C1,2.1,1,0),1,4),
    region('model Y33 a',modelRed,texture(C1,1.6,2,23),1,4),
    stars('model stars Y33',modelRedStars.concat(modelHBRed),C1,1,5,3.4),
    region('model Y33 b',modelBlue,texture(C1,2.1,1,13),1,6),
    region('model Y43 sparse',modelRed,texture(C3,1.6,4,7),1,6),
    region('model Y43',modelBlue,texture(C3,1.7,2,19),1,6),
    region('model Y38 sparse',modelBlue,texture(C2,1.7,3,29),1,6),
    region('model Y38',modelGreen,texture(C2,2.3,1,4),1,7),
    region('model Y38 b',modelGreen,texture(C2,2,1,15),1,7),
    region('model Y43 over',modelGreen,texture(C3,1.3,4,3),1,7),
    region('model Y33 over',modelGreen,texture(C1,1.2,11,9),1,7),
    stars('model stars Y38',modelGreenStars.concat(modelHBGreen),C2,1,8,3.4),
    stars('model stars Y43',modelBlueStars.concat(modelHBBlue),C3,1,9,3.4)
  ]
};
const chart=echarts.init(document.getElementById('c'),null,{renderer:'canvas'});
chart.setOption(option);
</script></body></html>
